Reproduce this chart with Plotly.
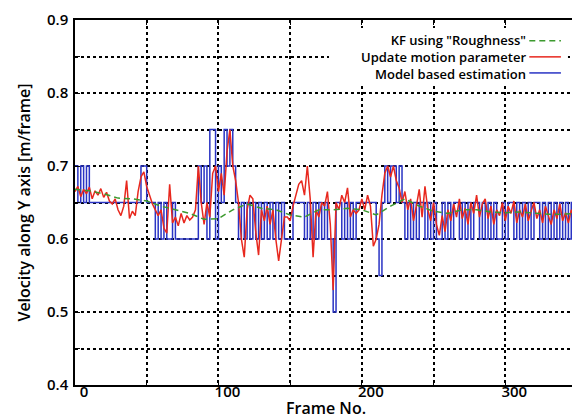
"""Velocity along Y axis: KF, updated motion parameter and model based estimation."""

import plotly.graph_objects as go

# ---- data ----
FRAMES_RED = list(range(0, 351, 2))
UPDATE_MOTION = [
    0.665, 0.672, 0.658, 0.668, 0.662, 0.671, 0.655, 0.666, 0.660, 0.669,
    0.657, 0.664, 0.652, 0.648, 0.655, 0.640, 0.632, 0.645, 0.680, 0.628,
    0.638, 0.632, 0.665, 0.685, 0.692, 0.672, 0.660, 0.648, 0.640, 0.632,
    0.640, 0.615, 0.608, 0.675, 0.622, 0.630, 0.618, 0.635, 0.622, 0.632,
    0.626,
    0.630, 0.640, 0.700, 0.650, 0.620, 0.650, 0.630, 0.690, 0.700, 0.665,
    0.690, 0.660, 0.720, 0.750, 0.700, 0.680, 0.650, 0.600, 0.575, 0.640,
    0.660, 0.655, 0.610, 0.578, 0.640, 0.625, 0.645, 0.620, 0.640, 0.600,
    0.570, 0.600, 0.630, 0.630, 0.625, 0.645, 0.660, 0.675, 0.680, 0.660,
    0.700, 0.655, 0.575, 0.640, 0.630, 0.650, 0.645, 0.665, 0.620, 0.530,
    0.650, 0.640, 0.660, 0.650, 0.670, 0.630, 0.640, 0.635, 0.640, 0.655,
    0.640, 0.660, 0.645, 0.590, 0.600, 0.620, 0.660, 0.690, 0.700, 0.685,
    0.700, 0.680, 0.670, 0.650, 0.665,
    0.640, 0.655, 0.625, 0.645, 0.668, 0.630, 0.672, 0.640, 0.625, 0.650,
    0.620, 0.605, 0.632, 0.610, 0.640, 0.625, 0.648, 0.630, 0.655, 0.628,
    0.642, 0.620, 0.650, 0.635, 0.660, 0.630, 0.648, 0.655, 0.628, 0.645,
    0.620, 0.640, 0.632, 0.650, 0.625, 0.645, 0.635, 0.652, 0.622, 0.640,
    0.630, 0.648, 0.625, 0.638, 0.650, 0.628, 0.640, 0.622, 0.645, 0.632,
    0.620, 0.640, 0.628, 0.648, 0.625, 0.636, 0.622, 0.640, 0.630, 0.635,
]

FRAMES_BLUE = list(range(0, 351, 2))
MODEL_BASED = [
    0.70, 0.65, 0.70, 0.65, 0.70,
    0.65, 0.65, 0.65, 0.65, 0.65, 0.65, 0.65, 0.65, 0.65,
    0.65, 0.65, 0.65, 0.65, 0.65, 0.65, 0.65, 0.65, 0.65,
    0.70, 0.70, 0.65, 0.65, 0.65, 0.60, 0.65, 0.60, 0.65, 0.60,
    0.60, 0.65, 0.60, 0.60, 0.60, 0.60, 0.60, 0.60, 0.60, 0.60,
    0.70, 0.65, 0.70, 0.60, 0.75, 0.75, 0.60, 0.70, 0.65, 0.75,
    0.70, 0.75, 0.70, 0.65, 0.60, 0.65, 0.60, 0.65, 0.60, 0.65,
    0.60, 0.65, 0.60, 0.65, 0.60, 0.65, 0.60, 0.65, 0.60, 0.65,
    0.60, 0.60,
    0.60, 0.65, 0.65, 0.65, 0.65, 0.60, 0.65, 0.60, 0.65, 0.60,
    0.65, 0.60, 0.65, 0.60, 0.60, 0.50, 0.65, 0.65, 0.60, 0.65,
    0.60, 0.65, 0.60, 0.65, 0.65, 0.65, 0.65, 0.65, 0.65, 0.65,
    0.60, 0.55, 0.65, 0.70, 0.65, 0.70, 0.70, 0.65, 0.70, 0.65,
    0.60,
    0.65, 0.60, 0.65, 0.60, 0.65, 0.65, 0.60, 0.65, 0.60, 0.65,
    0.60, 0.60, 0.65, 0.60, 0.65, 0.60, 0.65, 0.65, 0.60, 0.65,
    0.60, 0.65, 0.60, 0.65, 0.65, 0.60, 0.65, 0.60, 0.65, 0.60,
    0.65, 0.60, 0.60, 0.65, 0.60, 0.65, 0.65, 0.60, 0.65, 0.60,
    0.65, 0.60, 0.65, 0.60, 0.65, 0.65, 0.60, 0.65, 0.60, 0.65,
    0.60, 0.65, 0.60, 0.65, 0.60, 0.65, 0.60, 0.65, 0.60, 0.65,
]

FRAMES_KF = list(range(0, 351, 10))
KF_ROUGHNESS = [
    0.668, 0.666, 0.662, 0.656, 0.655, 0.652, 0.645, 0.640, 0.635, 0.627,
    0.628, 0.640, 0.648, 0.642, 0.640, 0.633, 0.630, 0.640, 0.640, 0.642,
    0.640, 0.633, 0.645, 0.655, 0.645, 0.638, 0.635, 0.640, 0.640, 0.637,
    0.636, 0.637, 0.635, 0.634, 0.634, 0.635,
]

SERIES_NAMES = ['KF using "Roughness"', "Update motion parameter", "Model based estimation"]

X_TICKS = [0, 50, 100, 150, 200, 250, 300, 350]
X_TICK_TEXT = ["0", "", "100", "", "200", "", "300", ""]
Y_TICKS = [0.4, 0.45, 0.5, 0.55, 0.6, 0.65, 0.7, 0.75, 0.8, 0.85, 0.9]
Y_TICK_TEXT = ["0.4", "", "0.5", "", "0.6", "", "0.7", "", "0.8", "", "0.9"]

COR_VERDE = "#3c9a2e"
COR_VERMELHO = "#e8281e"
COR_AZUL = "#2a34c4"
FONTE = "Open Sans"

fig = go.Figure()
fig.add_trace(go.Scatter(
    x=FRAMES_BLUE, y=MODEL_BASED, mode="lines", line_shape="hv",
    line=dict(color=COR_AZUL, width=1.5), showlegend=False,
))
fig.add_trace(go.Scatter(
    x=FRAMES_RED, y=UPDATE_MOTION, mode="lines",
    line=dict(color=COR_VERMELHO, width=1.5), showlegend=False,
))
fig.add_trace(go.Scatter(
    x=FRAMES_KF, y=KF_ROUGHNESS, mode="lines",
    line=dict(color=COR_VERDE, width=1.5, dash="6px,4px"), showlegend=False,
))

eixo = dict(
    showline=True, linecolor="black", linewidth=1.5, mirror="ticks",
    ticks="inside", ticklen=5, tickcolor="black", tickwidth=1.2,
    showgrid=True, gridcolor="black", gridwidth=1.5, griddash="dot",
    zeroline=False, tickfont=dict(family=FONTE, size=15, color="black", weight=600),
)
fig.update_xaxes(
    **eixo, range=[0, 350], tickmode="array", tickvals=X_TICKS, ticktext=X_TICK_TEXT,
    ticklabelshift=9, ticklabelstandoff=-8,
)
fig.update_yaxes(
    **eixo, range=[0.4, 0.9], tickmode="array", tickvals=Y_TICKS, ticktext=Y_TICK_TEXT,
    ticklabelstandoff=2,
    title=dict(text="Velocity along Y axis [m/frame]",
               font=dict(family=FONTE, size=16, color="black", weight=600), standoff=12),
)

# Título do eixo x como anotação, para ficar colado às marcas como no original.
fig.add_annotation(xref="paper", yref="paper", x=0.5, y=-0.064, text="Frame No.",
                   xanchor="center", yanchor="middle", showarrow=False,
                   font=dict(family=FONTE, size=16, color="black", weight=600))

# Legenda feita à mão: texto alinhado à direita e amostra de linha à direita.
fig.add_shape(type="rect", xref="paper", yref="paper", x0=0.506, x1=0.982, y0=0.822, y1=0.978,
              fillcolor="white", line=dict(width=0), layer="above")
legend_rows = [0.943, 0.899, 0.855]
legend_styles = [
    dict(color=COR_VERDE, width=1.5, dash="6px,4px"),
    dict(color=COR_VERMELHO, width=1.5),
    dict(color=COR_AZUL, width=1.5),
]
fig.add_annotation(xref="paper", yref="paper", x=0.903, y=0.899, text="<br>".join(SERIES_NAMES),
                   xanchor="right", yanchor="middle", align="right", showarrow=False,
                   font=dict(family=FONTE, size=13, color="black", weight=600))
for y_row, estilo in zip(legend_rows, legend_styles):
    fig.add_shape(type="line", xref="paper", yref="paper", x0=0.905, x1=0.968,
                  y0=y_row, y1=y_row, line=estilo, layer="above")

# A página tem 8 px de margem no body; a figura é reduzida para caber na janela.
fig.update_layout(
    width=572, height=411,
    margin=dict(l=67, r=1, t=12, b=34),
    paper_bgcolor="white", plot_bgcolor="white",
    showlegend=False,
)

fig.write_html("out.html")
